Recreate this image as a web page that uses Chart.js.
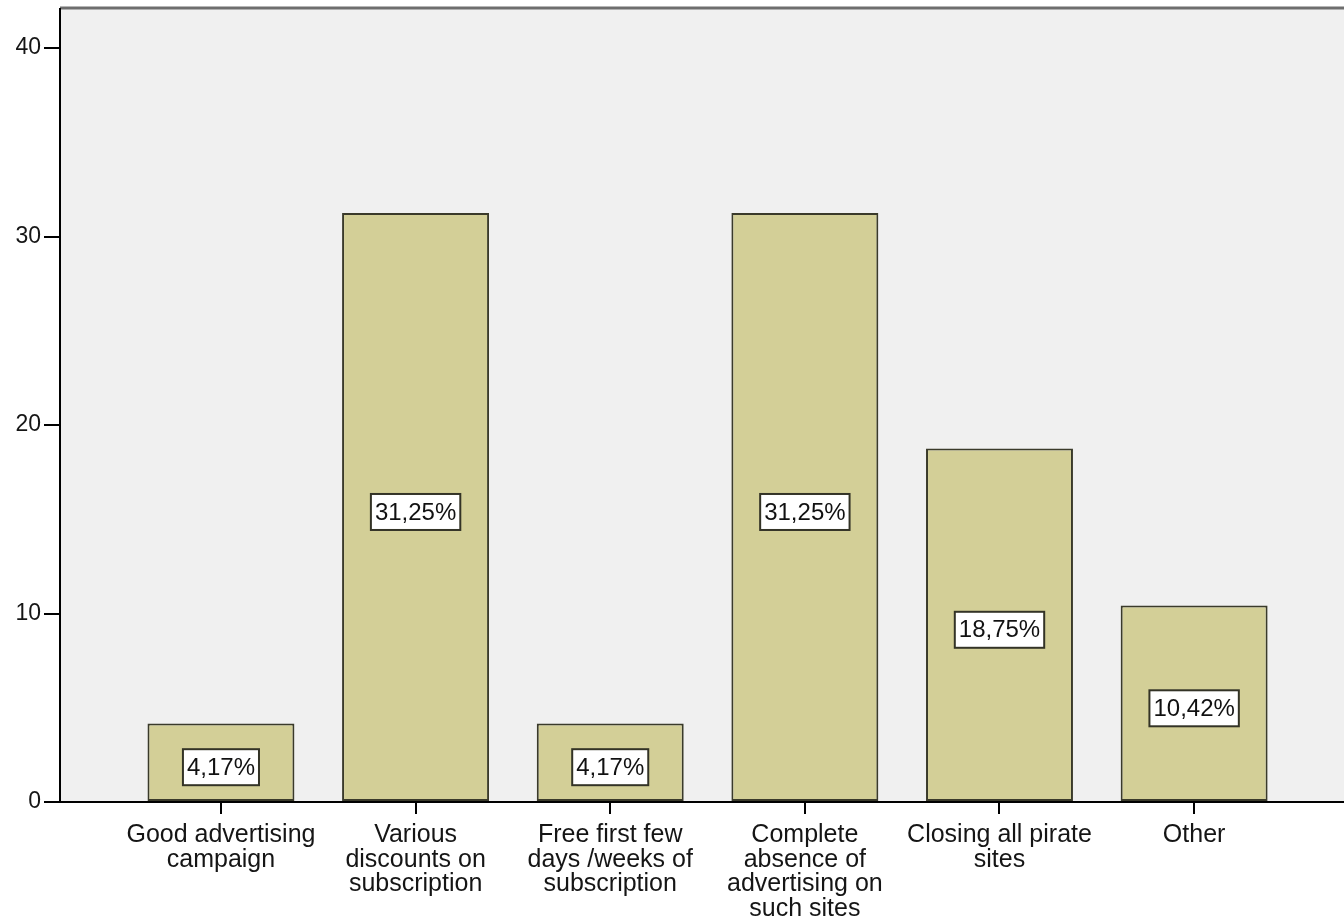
<!DOCTYPE html>
<html>
<head>
<meta charset="utf-8">
<script src="https://cdn.jsdelivr.net/npm/chart.js@4"></script>
<style>
  body { margin: 0; background: #fff; }
  #wrap { width: 1344px; height: 921px; }
</style>
</head>
<body>
<div id="wrap"><canvas id="barChart" width="1344" height="921"></canvas></div>
<script>
// ── Data ─────────────────────────────────────────────────────────────────────

const categories = [
    ['Good advertising', 'campaign'],
    ['Various', 'discounts on', 'subscription'],
    ['Free first few', 'days /weeks of', 'subscription'],
    ['Complete', 'absence of', 'advertising on', 'such sites'],
    ['Closing all pirate', 'sites'],
    ['Other']
];
const percents = [4.17, 31.25, 4.17, 31.25, 18.75, 10.42];
const yTicks   = [0, 10, 20, 30, 40];

// ── Plugins ──────────────────────────────────────────────────────────────────

const FONT = '"Liberation Sans", Arial, sans-serif';

const plotBackground = {
    id: 'plotBackground',
    beforeDraw(chart) {
        const { ctx, chartArea: a } = chart;
        ctx.save();
        ctx.fillStyle = '#f0f0f0';
        ctx.fillRect(a.left, a.top, a.right - a.left, a.bottom - a.top);
        ctx.strokeStyle = '#6e6e6e';
        ctx.lineWidth = 3;
        ctx.beginPath();
        ctx.moveTo(a.left, a.top - 1);
        ctx.lineTo(a.right, a.top - 1);
        ctx.stroke();
        ctx.restore();
    }
};

const barLabels = {
    id: 'barLabels',
    afterDatasetsDraw(chart) {
        const { ctx } = chart;
        const meta = chart.getDatasetMeta(0);
        ctx.save();
        ctx.font = '24px ' + FONT;
        ctx.textAlign = 'center';
        ctx.textBaseline = 'middle';
        meta.data.forEach((bar, i) => {
            const text = percents[i].toFixed(2).replace('.', ',') + '%';
            const w = ctx.measureText(text).width + 8;
            const h = 36;
            const cx = bar.x;
            const cy = (bar.y + bar.base) / 2 + 5;
            ctx.fillStyle = '#ffffff';
            ctx.fillRect(cx - w / 2, cy - h / 2, w, h);
            ctx.strokeStyle = '#333326';
            ctx.lineWidth = 2;
            ctx.strokeRect(cx - w / 2, cy - h / 2, w, h);
            ctx.fillStyle = '#111111';
            ctx.fillText(text, cx, cy + 1);
        });
        ctx.restore();
    }
};

// ── Chart ────────────────────────────────────────────────────────────────────

const points = percents.map((v, i) => ({ x: i, y: v }));

new Chart(document.getElementById('barChart').getContext('2d'), {
    type: 'bar',
    data: {
        datasets: [{
            data: points,
            backgroundColor: '#d3cf97',
            borderColor: '#3a3a2a',
            borderWidth: 2,
            borderSkipped: false,
            categoryPercentage: 1,
            barPercentage: 0.755,
        }]
    },
    plugins: [plotBackground, barLabels],
    options: {
        responsive: false,
        animation: false,
        layout: { padding: { top: 9, right: 0, left: 0, bottom: 0 } },
        plugins: { legend: { display: false }, tooltip: { enabled: false } },
        scales: {
            x: {
                type: 'linear',
                offset: false,
                min: -0.827,
                max: 5.77,
                afterFit: s => { s.height = 119; s.paddingLeft = 0; s.paddingRight = 0; },
                afterBuildTicks: s => { s.ticks = categories.map((_, i) => ({ value: i })); },
                border: { display: true, color: '#000', width: 2 },
                grid: { offset: false, drawOnChartArea: false, drawTicks: true, tickLength: 12, color: '#000', lineWidth: 2 },
                ticks: {
                    autoSkip: false,
                    maxRotation: 0,
                    padding: 9,
                    color: '#151515',
                    font: { family: FONT, size: 25, lineHeight: 0.98 },
                    callback: v => categories[v]
                }
            },
            y: {
                min: 0,
                max: 42.07,
                afterFit: s => { s.width = 60; s.paddingTop = 0; s.paddingBottom = 0; },
                afterBuildTicks: s => { s.ticks = yTicks.map(v => ({ value: v })); },
                border: { display: true, color: '#000', width: 2 },
                grid: { drawOnChartArea: false, drawTicks: true, tickLength: 16, color: '#000', lineWidth: 2 },
                ticks: {
                    padding: 3,
                    color: '#151515',
                    font: { family: FONT, size: 23 },
                    callback: v => String(v)
                }
            }
        }
    }
});
</script>
</body>
</html>
